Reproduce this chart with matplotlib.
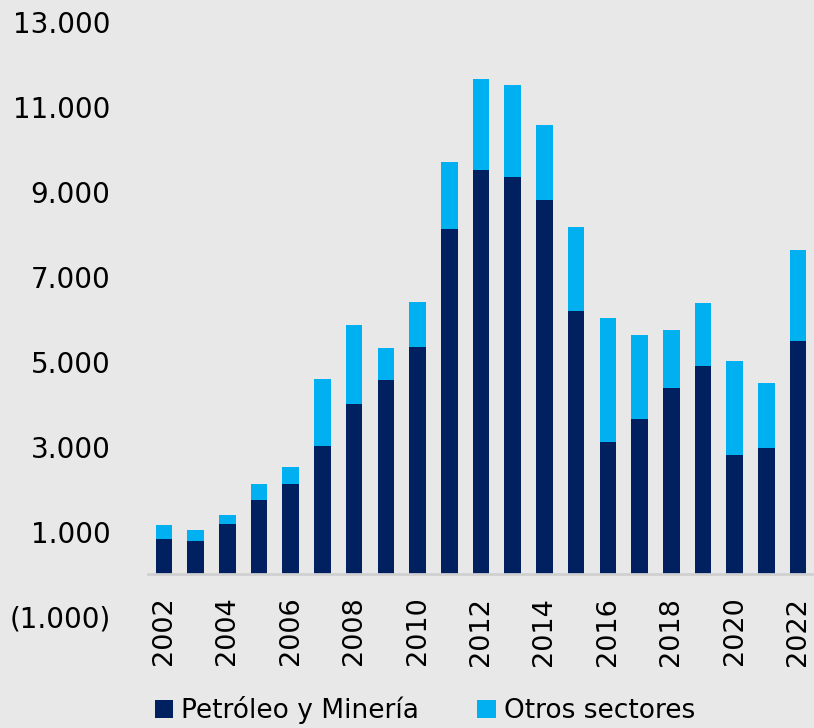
import matplotlib.pyplot as plt
from matplotlib.ticker import FuncFormatter

plt.rcParams['font.family'] = ['DejaVu Sans']

# datos
years = list(range(2002, 2023))
petroleo = [828, 795, 1188, 1753, 2137, 3020, 4000, 4577, 5341, 8130, 9511,
            9353, 8819, 6200, 3122, 3670, 4377, 4906, 2804, 2984, 5501]
total = [1165, 1047, 1400, 2122, 2529, 4600, 5871, 5340, 6405, 9713, 11666,
         11511, 10570, 8184, 6024, 5624, 5741, 6382, 5016, 4498, 7635]
otros = [t - p for t, p in zip(total, petroleo)]

bg = '#e8e8e8'
fig = plt.figure(figsize=(8.14, 7.28), dpi=100, facecolor=bg)
ax = fig.add_axes([0.1818, 0.1525, 0.8182, 0.8173], facecolor=bg)

x = list(range(len(years)))
ax.bar(x, petroleo, width=0.52, color='#002060', label='Petróleo y Minería')
ax.bar(x, otros, width=0.52, bottom=petroleo, color='#00b0f0', label='Otros sectores')

ax.set_xlim(-0.5, len(years) - 0.5)
ax.set_ylim(-1000, 13000)
ax.set_yticks(range(-1000, 13001, 2000))

def fmt(v, pos):
    s = f"{abs(v):,.0f}".replace(",", ".")
    return f"({s})" if v < 0 else s

for s in ['top', 'right', 'left']:
    ax.spines[s].set_visible(False)
ax.spines['bottom'].set_position(('data', 0))
ax.spines['bottom'].set_color('#d0d0d0')
ax.spines['bottom'].set_linewidth(2)

ax.yaxis.set_major_formatter(FuncFormatter(fmt))
ax.set_xticks(x[::2])
ax.set_xticklabels([str(y) for y in years[::2]])

ax.tick_params(axis='y', length=0, pad=27, labelsize=20)
ax.tick_params(axis='x', length=0, pad=16, labelsize=19.5, labelrotation=90)

fig.legend(loc='center', bbox_to_anchor=(425 / 814, 1 - 710 / 728), ncol=2,
           frameon=False, fontsize=19, handlelength=0.7, handleheight=0.7,
           handletextpad=0.3, columnspacing=2.2)

fig.savefig('out.png', dpi=100, facecolor=bg)
